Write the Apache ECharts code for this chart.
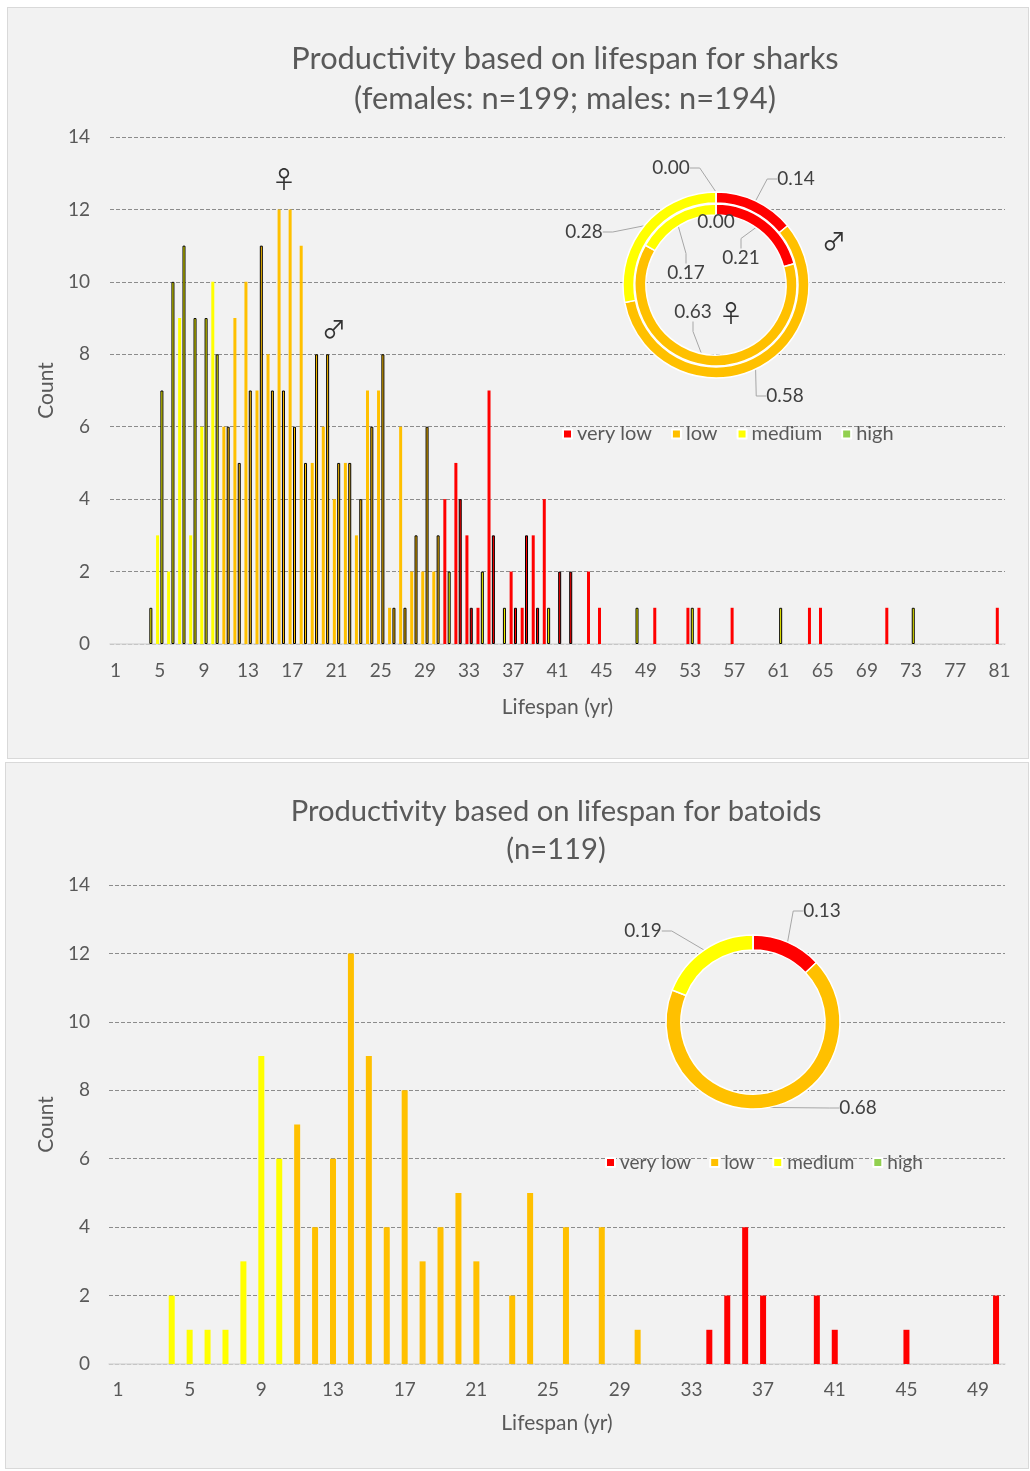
<!DOCTYPE html>
<html>
<head>
<meta charset="utf-8">
<script src="https://cdn.jsdelivr.net/npm/echarts@6/dist/echarts.min.js"></script>
<style>
  body { margin: 0; background: #fff; }
  .panel { position: absolute; background: #f2f2f2; border: 1px solid #d9d9d9; box-sizing: border-box; }
  .panel > div { width: 100%; height: 100%; }
  #p1 { left: 7px; top: 7px; width: 1022px; height: 752px; }
  #p2 { left: 5px; top: 762px; width: 1024px; height: 707px; }
</style>
</head>
<body>
<div class="panel" id="p1"><div id="sharks"></div></div>
<div class="panel" id="p2"><div id="batoids"></div></div>
<script>
// lifespan categories (yr)
var sharkLifespan = ['1','2','3','4','5','6','7','8','9','10','11','12','13','14','15','16','17','18','19','20',
  '21','22','23','24','25','26','27','28','29','30','31','32','33','34','35','36','37','38','39','40',
  '41','42','43','44','45','46','47','48','49','50','51','52','53','54','55','56','57','58','59','60',
  '61','62','63','64','65','66','67','68','69','70','71','72','73','74','75','76','77','78','79','80','81'];
var batoidLifespan = ['1','2','3','4','5','6','7','8','9','10','11','12','13','14','15','16','17','18','19','20',
  '21','22','23','24','25','26','27','28','29','30','31','32','33','34','35','36','37','38','39','40',
  '41','42','43','44','45','46','47','48','49','50'];

// [lifespan, count] per productivity class
var femaleVeryLow = [[31,4],[32,5],[33,3],[34,1],[35,7],[37,2],[38,1],[39,3],[40,4],[44,2],[45,1],[50,1],[53,1],[54,1],[57,1],[64,1],[65,1],[71,1],[81,1]];
var femaleLow = [[11,6],[12,9],[13,10],[14,7],[15,8],[16,12],[17,12],[18,11],[19,5],[20,6],[21,4],[22,5],[23,3],[24,7],[25,7],[26,1],[27,6],[28,2],[29,2],[30,2]];
var femaleMedium = [[5,3],[6,2],[7,9],[8,3],[9,6],[10,10]];

var maleVeryLow = [[32,4],[33,1],[35,3],[37,1],[38,3],[39,1],[41,2],[42,2]];
var maleLow = [[11,6],[12,5],[13,7],[14,11],[15,7],[16,7],[17,6],[18,5],[19,8],[20,8],[21,5],[22,5],[23,4],[24,6],[25,8],[26,1],[27,1],[28,3],[29,6],[30,3]];
var maleMedium = [[4,1],[5,7],[6,10],[7,11],[8,9],[9,9],[10,8],[31,2],[34,2],[36,1],[40,1],[48,1],[53,1],[61,1],[73,1]];

var batoidVeryLow = [[34,1],[35,2],[36,4],[37,2],[40,2],[41,1],[45,1],[50,2]];
var batoidLow = [[11,7],[12,4],[13,6],[14,12],[15,9],[16,4],[17,8],[18,3],[19,4],[20,5],[21,3],[23,2],[24,5],[26,4],[28,4],[30,1]];
var batoidMedium = [[4,2],[5,1],[6,1],[7,1],[8,3],[9,9],[10,6]];

// shares for the doughnuts
var classNames = ['very low', 'low', 'medium', 'high'];
var maleShare = [0.14, 0.58, 0.28, 0.00];
var femaleShare = [0.21, 0.63, 0.17, 0.00];
var batoidShare = [0.13, 0.68, 0.19, 0.00];

var classColors = ['#ff0000', '#ffc000', '#ffff00', '#92d050'];
var textColor = '#595959';
var font = 'Lato, "Noto Sans", sans-serif';
var symFont = '"Noto Sans CJK SC", "DejaVu Sans", sans-serif';

function buildBars(cats, groups) {
  var out = cats.map(function() { return '-'; });
  groups.forEach(function(g) {
    g.list.forEach(function(p) {
      var idx = cats.indexOf(String(p[0]));
      out[idx] = { value: p[1], itemStyle: { color: g.color } };
    });
  });
  return out;
}

function buildPie(values, labelPos, hideLine) {
  return values.map(function(v, i) {
    var item = { name: classNames[i], value: v, itemStyle: { color: classColors[i] } };
    if (!labelPos[i]) {
      item.label = { show: false };
      item.labelLine = { show: false };
    } else if (hideLine && hideLine[i]) {
      item.labelLine = { show: false };
    }
    return item;
  });
}

function posLayout(positions) {
  return function(params) {
    var p = positions[params.dataIndex];
    if (!p) return {};
    return { x: p[0], y: p[1], align: 'center', verticalAlign: 'middle' };
  };
}

function baseAxes(cats, o) {
  return {
    xAxis: {
      type: 'category',
      data: cats,
      name: 'Lifespan (yr)',
      nameLocation: 'middle',
      nameGap: o.xNameGap,
      nameTextStyle: { color: textColor, fontSize: 21, fontFamily: font },
      axisLine: { lineStyle: { color: '#d9d9d9', width: 1.5 } },
      axisTick: { show: false },
      axisLabel: { interval: 3, color: textColor, fontSize: 19, fontFamily: font, margin: o.xLabelMargin }
    },
    yAxis: {
      type: 'value',
      min: 0, max: 14, interval: 2,
      name: 'Count',
      nameLocation: 'middle',
      nameGap: o.yNameGap,
      nameTextStyle: { color: textColor, fontSize: 21, fontFamily: font },
      axisLine: { show: false },
      axisTick: { show: false },
      axisLabel: { color: textColor, fontSize: 19, fontFamily: font, margin: o.yLabelMargin },
      splitLine: { lineStyle: { color: '#8c8c8c', type: [4, 2], width: 1 } }
    }
  };
}

function legendOpt(left, top, size, gap) {
  return {
    data: classNames,
    left: left, top: top,
    itemWidth: 9, itemHeight: 9, itemGap: gap,
    icon: 'rect',
    itemStyle: { borderColor: '#ffffff', borderWidth: 2 },
    textStyle: { color: textColor, fontSize: size, fontFamily: font }
  };
}

function symbol(ch, x, y) {
  return {
    type: 'text', x: x, y: y,
    style: { text: ch, fill: '#333', font: '24px ' + symFont, align: 'center', verticalAlign: 'middle' }
  };
}

var pieLabel = { color: '#404040', fontSize: 19, fontFamily: font, formatter: function(p) { return p.value.toFixed(2); } };
var pieLine = { show: true, length: 10, length2: 10, lineStyle: { color: '#a6a6a6', width: 1 } };

// ---------- sharks ----------
var chart1 = echarts.init(document.getElementById('sharks'));
var ax1 = baseAxes(sharkLifespan, { xNameGap: 53, xLabelMargin: 17, yNameGap: 52, yLabelMargin: 20 });
chart1.setOption({
  animation: false,
  title: {
    text: 'Productivity based on lifespan for sharks\n(females: n=199; males: n=194)',
    left: 552, top: 26, textAlign: 'center',
    textStyle: { color: textColor, fontSize: 30.8, fontWeight: 'normal', fontFamily: font, lineHeight: 40 }
  },
  legend: legendOpt(549, 411, 20, 19),
  grid: { left: 102, right: 23, top: 129, bottom: 114 },
  xAxis: ax1.xAxis,
  yAxis: ax1.yAxis,
  series: [
    {
      name: 'females', type: 'bar', barWidth: 3, barGap: '45%',
      data: buildBars(sharkLifespan, [
        { list: femaleVeryLow, color: classColors[0] },
        { list: femaleLow, color: classColors[1] },
        { list: femaleMedium, color: classColors[2] }
      ])
    },
    {
      name: 'males', type: 'bar', barWidth: 3, barGap: '45%',
      itemStyle: { borderColor: '#000', borderWidth: 1 },
      data: buildBars(sharkLifespan, [
        { list: maleVeryLow, color: classColors[0] },
        { list: maleLow, color: classColors[1] },
        { list: maleMedium, color: classColors[2] }
      ])
    },
    {
      name: 'male share', type: 'pie', center: [708, 277], radius: [82, 93],
      startAngle: 90, clockwise: true,
      itemStyle: { borderColor: '#fff', borderWidth: 1.5 },
      label: pieLabel, labelLine: pieLine,
      labelLayout: posLayout([[788, 171], [777, 388], [576, 224], [663, 160]]),
      data: buildPie(maleShare, [1, 1, 1, 1])
    },
    {
      name: 'female share', type: 'pie', center: [708, 277], radius: [70, 81],
      startAngle: 90, clockwise: true,
      itemStyle: { borderColor: '#fff', borderWidth: 1.5 },
      label: pieLabel, labelLine: pieLine,
      labelLayout: posLayout([[733, 250], [685, 304], [678, 265], [708, 214]]),
      data: buildPie(femaleShare, [1, 1, 1, 1], [0, 0, 0, 1])
    }
  ],
  graphic: [
    symbol('\u2640', 276, 171),
    symbol('\u2642', 326, 321),
    symbol('\u2642', 826, 233),
    symbol('\u2640', 723, 305)
  ]
});

// ---------- batoids ----------
var chart2 = echarts.init(document.getElementById('batoids'));
var ax2 = baseAxes(batoidLifespan, { xNameGap: 49, xLabelMargin: 16, yNameGap: 49, yLabelMargin: 19 });
chart2.setOption({
  animation: false,
  title: {
    text: 'Productivity based on lifespan for batoids\n(n=119)',
    left: 545, top: 25, textAlign: 'center',
    textStyle: { color: textColor, fontSize: 29.2, fontWeight: 'normal', fontFamily: font, lineHeight: 38 }
  },
  legend: legendOpt(594, 385, 19, 18),
  grid: { left: 103, right: 23, top: 122, bottom: 104 },
  xAxis: ax2.xAxis,
  yAxis: ax2.yAxis,
  series: [
    {
      name: 'batoids', type: 'bar', barWidth: 6,
      data: buildBars(batoidLifespan, [
        { list: batoidVeryLow, color: classColors[0] },
        { list: batoidLow, color: classColors[1] },
        { list: batoidMedium, color: classColors[2] }
      ])
    },
    {
      name: 'batoid share', type: 'pie', center: [747, 259], radius: [72, 87],
      startAngle: 90, clockwise: true,
      itemStyle: { borderColor: '#fff', borderWidth: 1.5 },
      label: pieLabel, labelLine: pieLine,
      labelLayout: posLayout([[816, 148], [852, 345], [637, 168], null]),
      data: buildPie(batoidShare, [1, 1, 1, 0])
    }
  ]
});
</script>
</body>
</html>
